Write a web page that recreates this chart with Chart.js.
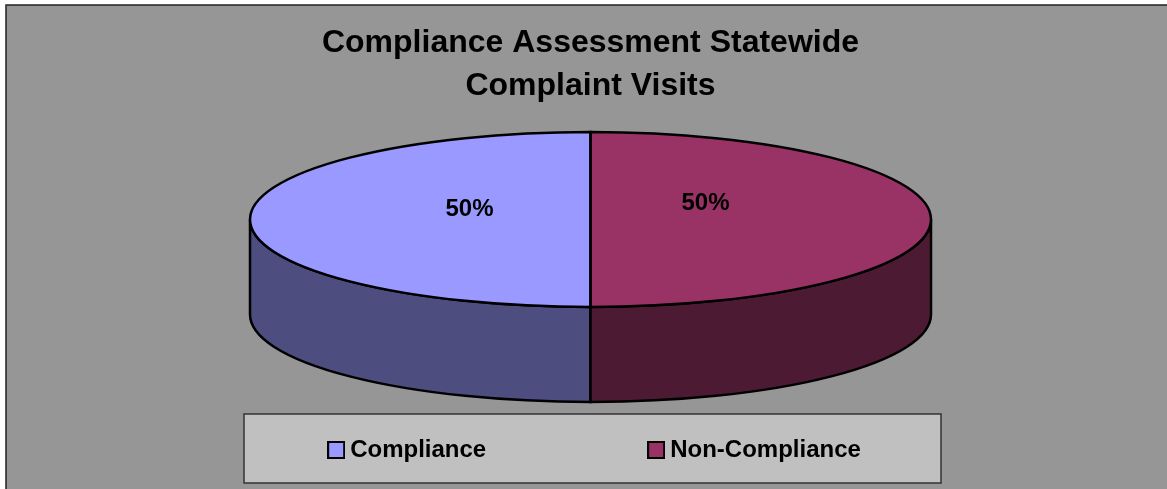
<!DOCTYPE html>
<html>
<head>
<meta charset="utf-8">
<style>
html, body { margin: 0; padding: 0; background: #fff; overflow: hidden; }
canvas { display: block; }
</style>
<script src="https://cdn.jsdelivr.net/npm/chart.js@4"></script>
</head>
<body>
<canvas id="chart" width="1167" height="489"></canvas>
<script>
const titleLines = ['Compliance Assessment Statewide', 'Complaint Visits'];
const categories = ['Compliance', 'Non-Compliance'];
const shares = [50, 50];
const topColors = ['#9999ff', '#993366'];
const sideColors = ['#4d4d80', '#4d1a33'];

// 3D look: the pie is squashed into an ellipse and gets a wall below it
const fontName = '"Liberation Sans", Arial, sans-serif';
const radiusX = 340.5;
const radiusY = 87.5;
const topY = 219.5;
const depth = 95;
// where the percent labels sit, relative to the pie centre
const labelOffsets = [[-121, -10], [115, -16]];

function swatch(color) {
    const c = document.createElement('canvas');
    c.width = 18;
    c.height = 18;
    const g = c.getContext('2d');
    g.fillStyle = color;
    g.fillRect(1, 1, 16, 16);
    g.strokeStyle = '#000';
    g.lineWidth = 2;
    g.strokeRect(1, 1, 16, 16);
    return c;
}

const pie3d = {
    id: 'pie3d',
    beforeDraw(chart) {
        const ctx = chart.ctx;
        ctx.save();
        ctx.fillStyle = '#969696';
        ctx.fillRect(6, 5, 1161, 484);
        ctx.strokeStyle = '#222';
        ctx.lineWidth = 1.5;
        ctx.beginPath();
        ctx.moveTo(6, 489);
        ctx.lineTo(6, 5);
        ctx.lineTo(1167, 5);
        ctx.stroke();
        // legend panel
        ctx.fillStyle = '#c0c0c0';
        ctx.fillRect(244, 414, 697, 69);
        ctx.strokeStyle = '#333';
        ctx.lineWidth = 1.5;
        ctx.strokeRect(244, 414, 697, 69);
        ctx.restore();
    },
    afterLayout(chart) {
        chart.legend.top = 438 - chart.legend.options.labels.padding;
        chart.legend.left += 7;
        chart.legend.right += 7;
    },
    beforeDatasetsDraw(chart) {
        const ctx = chart.ctx;
        const arcs = chart.getDatasetMeta(0).data;
        ctx.save();
        ctx.lineWidth = 2.5;
        ctx.strokeStyle = '#000';
        arcs.forEach((arc, i) => {
            // only the part of the slice facing the viewer has a wall
            for (let k = 0; k < 2; k++) {
                const a0 = Math.max(arc.startAngle, k * 2 * Math.PI);
                const a1 = Math.min(arc.endAngle, Math.PI + k * 2 * Math.PI);
                if (a1 <= a0) continue;
                ctx.beginPath();
                ctx.ellipse(arc.x, topY, radiusX, radiusY, 0, a0, a1);
                ctx.ellipse(arc.x, topY + depth, radiusX, radiusY, 0, a1, a0, true);
                ctx.closePath();
                ctx.fillStyle = sideColors[i];
                ctx.fill();
                ctx.stroke();
            }
        });
        ctx.restore();
        // squash what the library draws next, undone in afterDatasetsDraw
        const cy = arcs[0].y;
        ctx.save();
        ctx.translate(0, topY);
        ctx.scale(1, radiusY / radiusX);
        ctx.translate(0, -cy);
    },
    afterDatasetsDraw(chart) {
        const ctx = chart.ctx;
        ctx.restore();
        const arcs = chart.getDatasetMeta(0).data;
        const total = shares.reduce((a, b) => a + b, 0);
        ctx.save();
        ctx.lineWidth = 2.5;
        ctx.strokeStyle = '#000';
        arcs.forEach(arc => {
            ctx.beginPath();
            ctx.moveTo(arc.x, topY);
            ctx.ellipse(arc.x, topY, radiusX, radiusY, 0, arc.startAngle, arc.endAngle);
            ctx.closePath();
            ctx.stroke();
        });
        ctx.fillStyle = '#000';
        ctx.font = 'bold 24px ' + fontName;
        ctx.textAlign = 'center';
        ctx.textBaseline = 'middle';
        arcs.forEach((arc, i) => {
            const text = Math.round(shares[i] / total * 100) + '%';
            ctx.fillText(text, arc.x + labelOffsets[i][0], topY + labelOffsets[i][1]);
        });
        ctx.restore();
    }
};

new Chart(document.getElementById('chart'), {
    type: 'pie',
    data: {
        labels: categories,
        datasets: [{
            data: shares,
            backgroundColor: topColors,
            borderWidth: 0,
            clip: false
        }]
    },
    options: {
        responsive: false,
        animation: false,
        rotation: 180,
        radius: radiusX,
        layout: { padding: { left: 14 } },
        plugins: {
            tooltip: { enabled: false },
            title: {
                display: true,
                text: titleLines,
                color: '#000',
                font: { family: fontName, size: 32, weight: 'bold', lineHeight: 1.344 },
                padding: { top: 22, bottom: 10 }
            },
            legend: {
                position: 'bottom',
                labels: {
                    color: '#000',
                    font: { family: fontName, size: 24, weight: 'bold' },
                    padding: 168,
                    boxHeight: 24,
                    usePointStyle: true,
                    pointStyleWidth: 4,
                    generateLabels(chart) {
                        return categories.map((name, i) => ({
                            text: name,
                            fontColor: '#000',
                            pointStyle: swatch(topColors[i]),
                            index: i
                        }));
                    }
                }
            }
        }
    },
    plugins: [pie3d]
});
</script>
</body>
</html>
